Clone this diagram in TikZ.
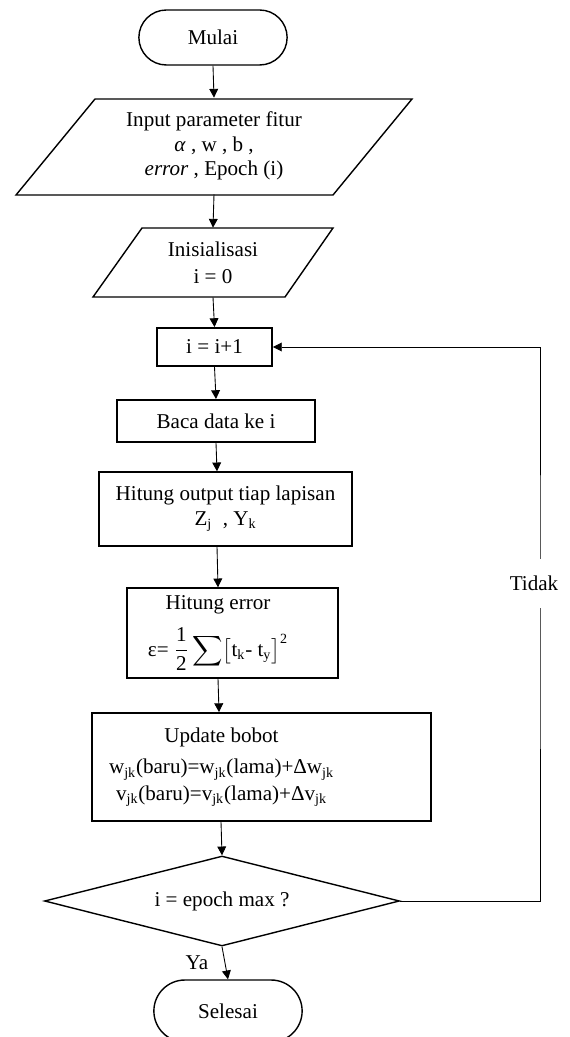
\documentclass[tikz,border=0pt]{standalone}
\usepackage{amsmath}
\usepackage{fontspec}
\setmainfont{Liberation Serif}
\usepackage{tikz}
\usetikzlibrary{shapes.geometric, arrows.meta, positioning, shapes.misc}

\tikzset{
  terminal/.style={draw, rounded rectangle, line width=0.8pt, minimum width=3.2cm, minimum height=1.1cm},
  iotext/.style={align=center, inner sep=0pt},
  iobox/.style={draw, line width=0.8pt},
  process/.style={draw, rectangle, line width=0.8pt, align=center},
  decision/.style={draw, diamond, aspect=3.9, inner sep=0pt, line width=0.8pt, minimum width=7.1cm, minimum height=1.8cm},
  flow/.style={-{Triangle[length=5pt,width=5pt]}, line width=0.5pt},
}

\begin{document}
\begin{tikzpicture}[x=0.02cm, y=-0.02cm, font=\fontsize{12}{14}\selectfont]
  \useasboundingbox (0,0) rectangle (570,1037);

  % Start
  \node[terminal] (mulai) at (213,37.5) {Mulai};

  % Input parameters
  \draw[iobox] (95,99) -- (412,99) -- (333,195) -- (16,195) -- cycle;
  \node[iotext, minimum height=1.92cm] (input) at (214,146) {Input parameter fitur\\ \textit{α} , w , b ,\\ \textit{error} , Epoch (i)};

  % Initialisation
  \draw[iobox] (142,228) -- (333,228) -- (285,297) -- (93,297) -- cycle;
  \node[iotext, minimum height=1.38cm] (init) at (213,262.5) {Inisialisasi\\[1.5pt] i = 0};

  % Loop body
  \node[process, line width=1.1pt, minimum width=2.3cm, minimum height=0.76cm] (inc) at (214.5,347) {i = i+1};
  \node[process, line width=1.1pt, minimum width=3.96cm, minimum height=0.84cm] (baca) at (216,421) {Baca data ke i};
  \node[process, minimum width=5.06cm, minimum height=1.48cm] (output) at (225.5,509)
    {Hitung output tiap lapisan\\ Z\textsubscript{j}~ , Y\textsubscript{k}};
  \node[process, minimum width=4.22cm, minimum height=1.8cm,
    label={[align=center, xshift=-0.29cm]center:{Hitung error\\[7pt] ε= $\displaystyle\frac{\text{1}}{\text{2}}\sum\bigl[\text{t\textsubscript{k}- t\textsubscript{y}}\bigr]^{\text{2}}$}}] (err) at (232.5,633) {};
  \node[process, line width=1pt, minimum width=6.78cm, minimum height=2.16cm,
    label={[align=center, xshift=-0.8cm]center:{Update bobot\\[4pt] w\textsubscript{jk}(baru)=w\textsubscript{jk}(lama)+Δw\textsubscript{jk}\\[1pt] v\textsubscript{jk}(baru)=v\textsubscript{jk}(lama)+Δv\textsubscript{jk}}}] (upd) at (261.5,767) {};

  % Check and end
  \node[decision] (dec) at (222,901) {i = epoch max ?};
  \node[terminal, minimum height=1.24cm] (selesai) at (228,1011) {Selesai};

  % Connectors
  \draw[flow] (mulai.south) -- (input.north);
  \draw[flow] (input.south) -- (init.north);
  \draw[flow] (init.south) -- (inc.north);
  \draw[flow] (inc.south) -- (baca.north);
  \draw[flow] (baca.south) -- ([xshift=-0.17cm]output.north);
  \draw[flow] ([xshift=-0.17cm]output.south) -- ([xshift=-0.29cm]err.north);
  \draw[flow] ([xshift=-0.29cm]err.south) -- ([xshift=-0.85cm]upd.north);
  \draw[flow] ([xshift=-0.81cm]upd.south) -- (dec.north);
  \draw[flow] (dec.south) -- (selesai.north) node[midway, left=6pt] {Ya};

  % Loop back
  \coordinate (back) at (540,600);
  \draw[flow] (dec.east) -| (back) |- (inc.east);
  \node[fill=white, inner xsep=1pt, minimum height=0.98cm] (tidak) at (534,583) {Tidak};
\end{tikzpicture}
\end{document}
